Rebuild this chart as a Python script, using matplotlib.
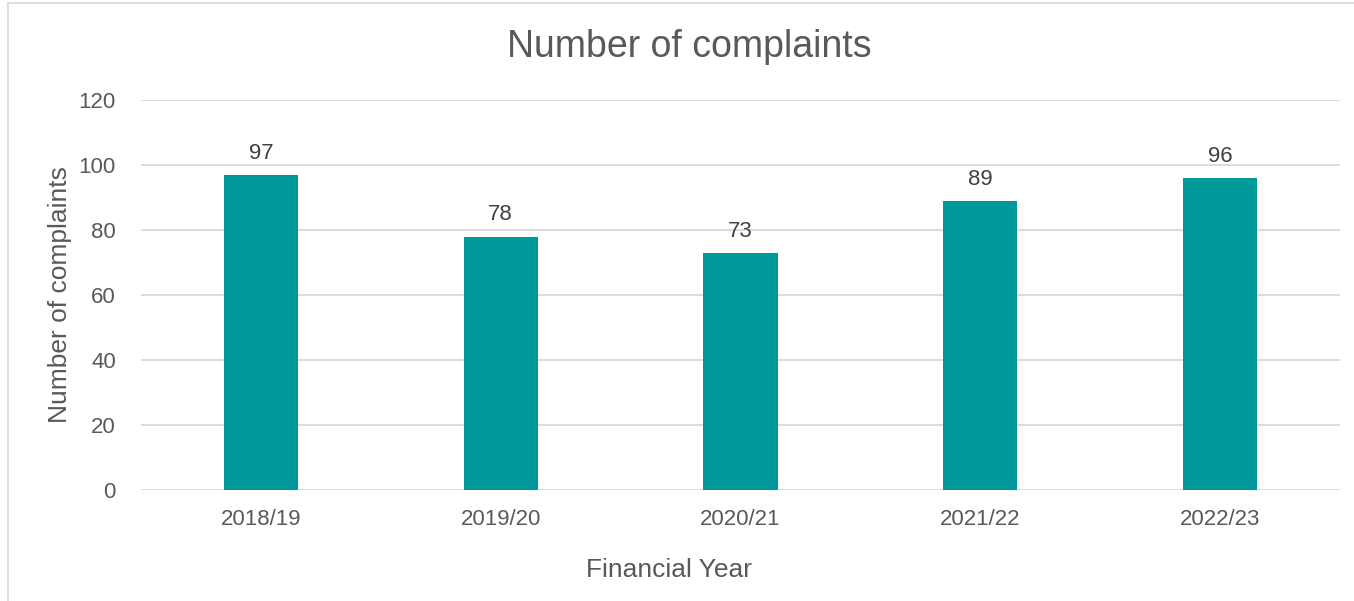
import matplotlib.pyplot as plt
from matplotlib.patches import Rectangle

# Complaints received per financial year
years = ['2018/19', '2019/20', '2020/21', '2021/22', '2022/23']
complaints = [97, 78, 73, 89, 96]

bar_colour = '#009999'
text_colour = '#595959'
grid_colour = '#D9D9D9'

plt.rcParams['font.family'] = ['Liberation Sans', 'DejaVu Sans']

fig = plt.figure(figsize=(13.54, 6.01), dpi=100)
ax = fig.add_axes([141 / 1354, 1 - 490 / 601, 1199 / 1354, 390 / 601])

x = range(len(years))
bars = ax.bar(x, complaints, width=0.31, color=bar_colour, zorder=3)
ax.bar_label(bars, labels=[str(v) for v in complaints], padding=8,
             fontsize=16, color='#404040')

ax.set_xlim(-0.5, len(years) - 0.5)
ax.set_ylim(0, 120)
ax.set_yticks(range(0, 121, 20))
ax.set_xticks(list(x))
ax.set_xticklabels(years)
ax.tick_params(axis='both', length=0, labelsize=16, labelcolor=text_colour)
ax.tick_params(axis='x', pad=14)
ax.tick_params(axis='y', pad=18)
ax.grid(axis='y', color=grid_colour, linewidth=1.3, zorder=0)
for side in ax.spines.values():
    side.set_visible(False)

ax.set_xlabel('Financial Year', fontsize=19, color=text_colour)
ax.xaxis.set_label_coords((669 - 141) / 1199, -(570 - 490) / 390)
ax.xaxis.label.set_va('center')
ax.set_ylabel('Number of complaints', fontsize=19, color=text_colour)
ax.yaxis.set_label_coords(-(141 - 60) / 1199, 0.5)
ax.yaxis.label.set_va('center')
fig.text(689 / 1354, 1 - 47 / 601, 'Number of complaints', fontsize=27,
         color=text_colour, ha='center', va='center')

# thin outer frame around the chart area
fig.patches.append(Rectangle((8 / 1354, -0.05), 1.1, 1 - 3 / 601 + 0.05,
                             transform=fig.transFigure, fill=False,
                             edgecolor='#D9D9D9', linewidth=1.2))

fig.savefig('out.png', dpi=100)
